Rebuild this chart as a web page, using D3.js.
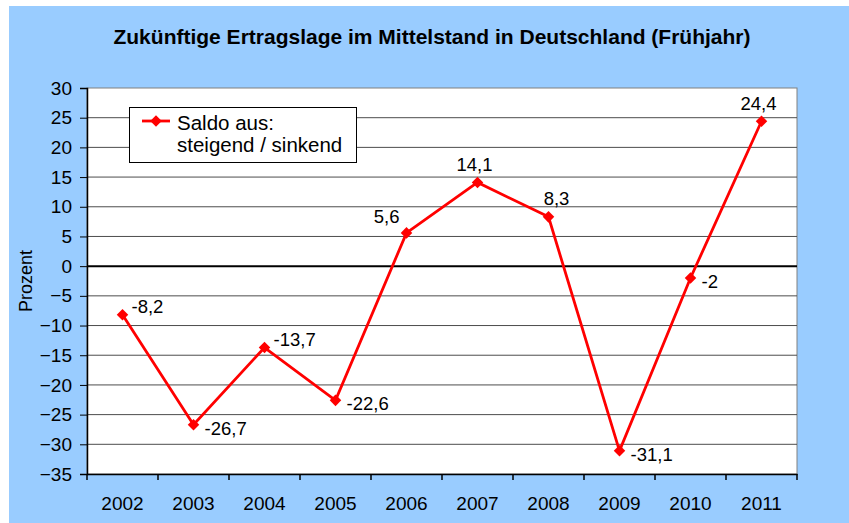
<!DOCTYPE html>
<html>
<head>
<meta charset="utf-8">
<script src="https://cdn.jsdelivr.net/npm/d3@7"></script>
<style>
  body { margin: 0; background: #fff; }
  text { font-family: "Liberation Sans", Arial, sans-serif; }
</style>
</head>
<body>
<div id="chart"></div>
<script>
// data
var years = ["2002", "2003", "2004", "2005", "2006", "2007", "2008", "2009", "2010", "2011"];
var saldo = [-8.2, -26.7, -13.7, -22.6, 5.6, 14.1, 8.3, -31.1, -2, 24.4];
var yTicks = [30, 25, 20, 15, 10, 5, 0, -5, -10, -15, -20, -25, -30, -35];
// where each value label sits relative to its point
var labelPlace = ["right", "rightLow", "right", "rightLow", "left", "above", "aboveRight", "rightLow", "rightLow", "above"];

var W = 849, H = 523;
var margin = {top: 88, right: 52, bottom: 49, left: 87},
    width = W - margin.left - margin.right,
    height = H - margin.top - margin.bottom;

var svg = d3.select("#chart")
  .append("svg")
    .attr("width", W)
    .attr("height", H);

// blue background
svg.append("rect")
  .attr("x", 9).attr("y", 6)
  .attr("width", W - 9).attr("height", H - 6)
  .attr("fill", "#99ccff");

svg.append("text")
  .attr("x", 432).attr("y", 44)
  .attr("text-anchor", "middle")
  .attr("font-size", 21)
  .attr("font-weight", "bold")
  .text("Zukünftige Ertragslage im Mittelstand in Deutschland (Frühjahr)");

var g = svg.append("g")
  .attr("transform", "translate(" + margin.left + "," + margin.top + ")");

g.append("rect")
  .attr("width", width).attr("height", height)
  .attr("fill", "#fff")
  .attr("stroke", "#808080");

var x = d3.scaleBand().domain(years).range([0, width]);
var y = d3.scaleLinear().domain([-35, 30]).range([height, 0]);

// gridlines
g.selectAll(".grid")
  .data(yTicks.filter(function(d) { return d !== 0 && d !== -35 && d !== 30; }))
  .enter().append("line")
    .attr("x1", 0).attr("x2", width)
    .attr("y1", function(d) { return y(d); })
    .attr("y2", function(d) { return y(d); })
    .attr("stroke", "#4d4d4d")
    .attr("stroke-width", 1);

// zero line
g.append("line")
  .attr("x1", 0).attr("x2", width)
  .attr("y1", y(0)).attr("y2", y(0))
  .attr("stroke", "#000").attr("stroke-width", 2);

// y axis
var yAxis = g.append("g")
  .call(d3.axisLeft(y).tickValues(yTicks).tickSize(7).tickFormat(d3.format("d")));
yAxis.select(".domain").attr("stroke", "#000").attr("stroke-width", 1.5);
yAxis.selectAll("line").attr("stroke", "#000");
yAxis.selectAll("text").attr("font-size", 19).attr("fill", "#000").attr("x", -15);

// x axis
var xAxis = g.append("g")
  .attr("transform", "translate(0," + height + ")")
  .call(d3.axisBottom(x).tickSize(0));
xAxis.select(".domain").attr("stroke", "#000").attr("stroke-width", 1.5);
xAxis.selectAll("text").attr("font-size", 19).attr("fill", "#000").attr("dy", 0).attr("y", 36);
g.selectAll(".xtick")
  .data(years.concat(["end"]))
  .enter().append("line")
    .attr("x1", function(d, i) { return i * x.bandwidth(); })
    .attr("x2", function(d, i) { return i * x.bandwidth(); })
    .attr("y1", height).attr("y2", height + 6)
    .attr("stroke", "#000").attr("stroke-width", 1.5);

svg.append("text")
  .attr("transform", "translate(32,281) rotate(-90)")
  .attr("text-anchor", "middle")
  .attr("font-size", 18)
  .text("Prozent");

// line
var cx = function(d, i) { return x(years[i]) + x.bandwidth() / 2; };
var line = d3.line()
  .x(cx)
  .y(function(d) { return y(d); });

g.append("path")
  .datum(saldo)
  .attr("d", line)
  .attr("fill", "none")
  .attr("stroke", "#ff0000")
  .attr("stroke-width", 2.8);

var diamond = d3.symbol().type(d3.symbolDiamond2).size(85);
g.selectAll(".pt")
  .data(saldo)
  .enter().append("path")
    .attr("d", diamond)
    .attr("transform", function(d, i) { return "translate(" + cx(d, i) + "," + y(d) + ")"; })
    .attr("fill", "#ff0000");

// value labels
var fmt = function(d) { return String(d).replace(".", ","); };
var place = {
  right:      {dx: 9,  dy: -2, anchor: "start"},
  rightLow:   {dx: 11, dy: 10, anchor: "start"},
  left:       {dx: -7, dy: -10, anchor: "end"},
  above:      {dx: -3, dy: -11, anchor: "middle"},
  aboveRight: {dx: 8,  dy: -12, anchor: "middle"}
};
g.selectAll(".lbl")
  .data(saldo)
  .enter().append("text")
    .attr("x", function(d, i) { return cx(d, i) + place[labelPlace[i]].dx; })
    .attr("y", function(d, i) { return y(d) + place[labelPlace[i]].dy; })
    .attr("text-anchor", function(d, i) { return place[labelPlace[i]].anchor; })
    .attr("font-size", 18.5)
    .text(fmt);

// legend
var lg = svg.append("g");
lg.append("rect")
  .attr("x", 129.5).attr("y", 107.5)
  .attr("width", 227).attr("height", 55)
  .attr("fill", "#fff").attr("stroke", "#000");
lg.append("line")
  .attr("x1", 142).attr("x2", 170).attr("y1", 121).attr("y2", 121)
  .attr("stroke", "#ff0000").attr("stroke-width", 2.8);
lg.append("path")
  .attr("d", diamond)
  .attr("transform", "translate(156,121)")
  .attr("fill", "#ff0000");
lg.append("text").attr("x", 177).attr("y", 130).attr("font-size", 20.5).text("Saldo aus:");
lg.append("text").attr("x", 177).attr("y", 152).attr("font-size", 20.5).text("steigend / sinkend");
</script>
</body>
</html>
